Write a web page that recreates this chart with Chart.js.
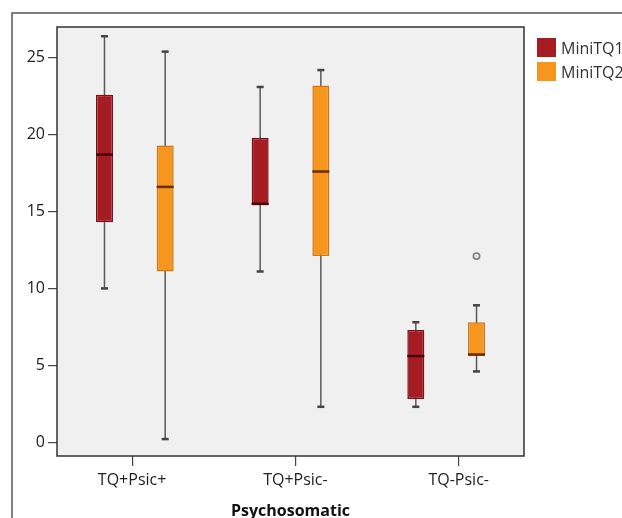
<!DOCTYPE html>
<html>
<head>
    <title>MiniTQ by Psychosomatic</title>
    <script src="https://cdn.jsdelivr.net/npm/chart.js"></script>
    <style>
        html, body { margin: 0; padding: 0; background: #fff; overflow: hidden; }
        #wrap { width: 622px; height: 518px; }
    </style>
</head>
<body>
    <div id="wrap"><canvas id="boxChart" width="622" height="518"></canvas></div>

    <script>
        // Groups on the x axis
        const categories = ['TQ+Psic+', 'TQ+Psic-', 'TQ-Psic-'];

        // MiniTQ1 five-number summaries
        const tq1Min = [10.0, 11.1, 2.3];
        const tq1Q1 = [14.3, 15.4, 2.8];
        const tq1Median = [18.7, 15.5, 5.6];
        const tq1Q3 = [22.6, 19.8, 7.3];
        const tq1Max = [26.4, 23.1, 7.8];
        const tq1Outliers = [[], [], []];

        // MiniTQ2 five-number summaries
        const tq2Min = [0.2, 2.3, 4.6];
        const tq2Q1 = [11.1, 12.1, 5.6];
        const tq2Median = [16.6, 17.6, 5.7];
        const tq2Q3 = [19.3, 23.2, 7.8];
        const tq2Max = [25.4, 24.2, 8.9];
        const tq2Outliers = [[], [], [12.1]];

        const yTicks = [0, 5, 10, 15, 20, 25];

        const FONT = '"Open Sans", sans-serif';

        const series = [
            { label: 'MiniTQ1', min: tq1Min, q1: tq1Q1, med: tq1Median, q3: tq1Q3, max: tq1Max, out: tq1Outliers,
              fill: '#a51d23', border: '#7a1117', medColor: '#4a0508' },
            { label: 'MiniTQ2', min: tq2Min, q1: tq2Q1, med: tq2Median, q3: tq2Q3, max: tq2Max, out: tq2Outliers,
              fill: '#f7961e', border: '#cf7710', medColor: '#6a2c00' }
        ];

        // whiskers behind the boxes, medians / caps / outliers on top
        const boxPlotPlugin = {
            id: 'boxParts',
            beforeDraw(chart) {
                const { ctx, chartArea: a } = chart;
                ctx.save();
                // outer frame
                ctx.strokeStyle = '#555';
                ctx.lineWidth = 1.5;
                ctx.beginPath();
                ctx.moveTo(12, chart.height);
                ctx.lineTo(12, 13);
                ctx.lineTo(chart.width, 13);
                ctx.stroke();
                // plot background
                ctx.fillStyle = '#f0f0f0';
                ctx.fillRect(a.left, a.top, a.right - a.left, a.bottom - a.top);
                ctx.restore();
            },
            beforeDatasetsDraw(chart) {
                const { ctx } = chart;
                const y = chart.scales.y;
                ctx.save();
                series.forEach((s, i) => {
                    chart.getDatasetMeta(i).data.forEach((bar, j) => {
                        ctx.strokeStyle = '#5a5a5a';
                        ctx.lineWidth = 1.5;
                        ctx.beginPath();
                        ctx.moveTo(bar.x, y.getPixelForValue(s.min[j]));
                        ctx.lineTo(bar.x, y.getPixelForValue(s.max[j]));
                        ctx.stroke();
                    });
                });
                ctx.restore();
            },
            afterDatasetsDraw(chart) {
                const { ctx } = chart;
                const y = chart.scales.y;
                ctx.save();
                series.forEach((s, i) => {
                    chart.getDatasetMeta(i).data.forEach((bar, j) => {
                        const half = bar.width / 2;
                        // caps
                        ctx.strokeStyle = '#444';
                        ctx.lineWidth = 2.5;
                        [s.min[j], s.max[j]].forEach(v => {
                            const py = y.getPixelForValue(v);
                            ctx.beginPath();
                            ctx.moveTo(bar.x - 3.5, py);
                            ctx.lineTo(bar.x + 3.5, py);
                            ctx.stroke();
                        });
                        // median
                        ctx.strokeStyle = s.medColor;
                        ctx.lineWidth = 2.5;
                        const my = y.getPixelForValue(s.med[j]);
                        ctx.beginPath();
                        ctx.moveTo(bar.x - half, my);
                        ctx.lineTo(bar.x + half, my);
                        ctx.stroke();
                        // outliers
                        s.out[j].forEach(v => {
                            ctx.beginPath();
                            ctx.arc(bar.x, y.getPixelForValue(v), 3.2, 0, Math.PI * 2);
                            ctx.fillStyle = '#e4e4e4';
                            ctx.fill();
                            ctx.strokeStyle = '#7a7a7a';
                            ctx.lineWidth = 1.5;
                            ctx.stroke();
                        });
                    });
                });
                // plot border
                const a = chart.chartArea;
                ctx.strokeStyle = '#333';
                ctx.lineWidth = 1.5;
                ctx.strokeRect(a.left, a.top, a.right - a.left, a.bottom - a.top);
                // legend
                ctx.font = '16px ' + FONT;
                ctx.textBaseline = 'middle';
                ctx.textAlign = 'left';
                chart.data.datasets.forEach((ds, i) => {
                    const top = a.top + 11 + i * 24;
                    ctx.fillStyle = ds.backgroundColor;
                    ctx.fillRect(a.right + 13, top, 19, 19);
                    ctx.fillStyle = '#333';
                    ctx.fillText(ds.label, a.right + 37, top + 11);
                });
                ctx.restore();
            }
        };

        const ctx = document.getElementById('boxChart').getContext('2d');
        const chart = new Chart(ctx, {
            type: 'bar',
            data: {
                labels: categories,
                datasets: series.map((s, i) => ({
                    label: s.label,
                    data: s.q1.map((v, j) => [v, s.q3[j]]),
                    backgroundColor: s.fill,
                    borderColor: s.border,
                    borderWidth: 1.5,
                    borderSkipped: false,
                    categoryPercentage: 0.78,
                    barPercentage: 0.28,
                    xAxisID: 'x'
                }))
            },
            options: {
                responsive: false,
                animation: false,
                layout: { padding: { top: 27, left: 17, right: 98, bottom: 0 } },
                plugins: {
                    legend: { display: false },
                    tooltip: { enabled: false }
                },
                scales: {
                    x: {
                        type: 'category',
                        display: false
                    },
                    x2: {
                        type: 'linear',
                        position: 'bottom',
                        offset: false,
                        min: 0.54,
                        max: 3.4,
                        afterBuildTicks: axis => { axis.ticks = [1, 2, 3].map(v => ({ value: v })); },
                        afterFit: axis => { axis.height = 62; },
                        border: { display: false },
                        grid: { offset: false, drawOnChartArea: false, tickLength: 10, color: '#444', lineWidth: 1.2 },
                        ticks: {
                            callback: v => categories[v - 1],
                            color: '#222',
                            font: { family: FONT, size: 16 },
                            padding: 5,
                            maxRotation: 0
                        },
                        title: {
                            display: true,
                            text: 'Psychosomatic',
                            color: '#111',
                            font: { family: FONT, size: 16, weight: 'bold' },
                            padding: { top: 0, bottom: -3 }
                        }
                    },
                    y: {
                        min: -0.9,
                        max: 27,
                        afterBuildTicks: axis => { axis.ticks = yTicks.map(v => ({ value: v })); },
                        afterFit: axis => { axis.width = 40; },
                        border: { display: false },
                        grid: { drawOnChartArea: false, tickLength: 9, color: '#444', lineWidth: 1.2 },
                        ticks: {
                            color: '#222',
                            font: { family: FONT, size: 16 },
                            padding: 3
                        }
                    }
                }
            },
            plugins: [boxPlotPlugin]
        });
    </script>
</body>
</html>
